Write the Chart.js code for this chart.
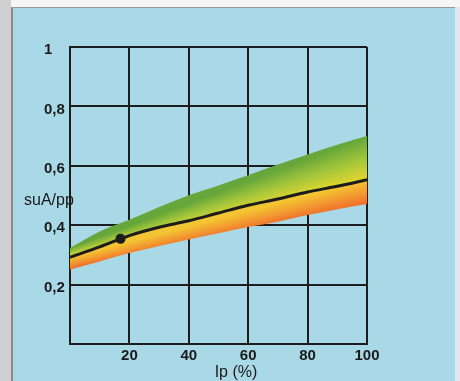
<!DOCTYPE html>
<html>
<head>
<meta charset="utf-8">
<script src="https://cdn.jsdelivr.net/npm/chart.js@4"></script>
<style>
  html, body { margin: 0; padding: 0; }
  body { width: 460px; height: 381px; overflow: hidden; background: #eeeeee; position: relative; }
  #leftStrip { position: absolute; left: 0; top: 0; width: 11px; height: 381px; background: #cfcfcf; }
  #topStrip { position: absolute; left: 11px; top: 0; width: 449px; height: 7px; background: #f6f6f6; }
  #panel { position: absolute; left: 11px; top: 7px; width: 444px; height: 374px; background: #a9d8e7;
           border-left: 2px solid #8a8a8a; border-top: 1px solid #9a9a9a; box-sizing: border-box; }
  #rightStrip { position: absolute; left: 455px; top: 7px; width: 5px; height: 374px; background: #dfe9ee; }
  canvas { position: absolute; left: 0; top: 0; }
</style>
</head>
<body>
<div id="leftStrip"></div>
<div id="topStrip"></div>
<div id="panel"></div>
<div id="rightStrip"></div>
<canvas id="c" width="460" height="381"></canvas>
<script>
// ---- data ----
const ipValues    = [0, 10, 20, 30, 40, 50, 60, 70, 80, 90, 100];
const upperBound  = [0.323, 0.379, 0.418, 0.461, 0.501, 0.534, 0.568, 0.604, 0.638, 0.671, 0.700];
const centralLine = [0.292, 0.327, 0.365, 0.393, 0.415, 0.441, 0.467, 0.488, 0.512, 0.531, 0.553];
const lowerBound  = [0.251, 0.278, 0.306, 0.330, 0.352, 0.373, 0.394, 0.412, 0.434, 0.454, 0.471];
const markerIp    = [17];
const markerSu    = [0.354];
const xTickLabels = ['', '20', '40', '60', '80', '100'];
const yTickLabels = ['', '0,2', '0,4', '0,6', '0,8', '1'];
const xTitle = 'Ip (%)';
const yTitle = 'suA/pp';

const upperColors = ['#66a63a', '#a4c63a', '#e6d72f'];
const lowerColors = ['#f3c532', '#f39a31', '#ef6c29'];

function pts(xs, ys) { return xs.map((x, i) => ({ x: x, y: ys[i] })); }

function bandGradient(chart, topArr, botArr, colors) {
  const { ctx, chartArea, scales } = chart;
  if (!chartArea || !scales.x || !scales.y) return colors[1];
  const sx = scales.x, sy = scales.y;
  const n = ipValues.length - 1;
  const x0 = sx.getPixelForValue(ipValues[0]), x1 = sx.getPixelForValue(ipValues[n]);
  const a0 = sy.getPixelForValue(topArr[0]), a1 = sy.getPixelForValue(topArr[n]);
  const b0 = sy.getPixelForValue(botArr[0]), b1 = sy.getPixelForValue(botArr[n]);
  const sa = (a1 - a0) / (x1 - x0), sb = (b1 - b0) / (x1 - x0);
  if (Math.abs(sa - sb) < 1e-6 || typeof ctx.createConicGradient !== 'function') {
    const g = ctx.createLinearGradient(0, Math.min(a0, a1), 0, Math.max(b0, b1));
    colors.forEach((c, i) => g.addColorStop(i / (colors.length - 1), c));
    return g;
  }
  const d = (b0 - a0) / (sa - sb);
  const cx = x0 + d, cy = a0 + sa * d;
  const angA = Math.atan2(a1 - cy, x1 - cx);
  const angB = Math.atan2(b1 - cy, x1 - cx);
  const frac = (angB - angA) / (2 * Math.PI);
  const g = ctx.createConicGradient(angA, cx, cy);
  colors.forEach((c, i) => g.addColorStop(frac * i / (colors.length - 1), c));
  g.addColorStop(Math.min(0.99, (frac + 1) / 2), colors[colors.length - 1]);
  g.addColorStop(1, colors[0]);
  return g;
}

const FONT_FAMILY = '"Liberation Sans", Arial, sans-serif';

const titlesPlugin = {
  id: 'titles',
  afterDraw(chart) {
    const { ctx, chartArea } = chart;
    ctx.save();
    ctx.fillStyle = '#1a1a1a';
    ctx.font = '16px ' + FONT_FAMILY;
    ctx.textBaseline = 'middle';
    ctx.textAlign = 'left';
    ctx.fillText(yTitle, chartArea.left - 46, chartArea.top + 154);
    ctx.textAlign = 'center';
    ctx.fillText(xTitle, chartArea.left + 166, chartArea.bottom + 29);
    ctx.restore();
  }
};

Chart.defaults.font.family = FONT_FAMILY;
Chart.defaults.font.size = 15;
Chart.defaults.font.weight = 'bold';
Chart.defaults.color = '#1a1a1a';

new Chart(document.getElementById('c'), {
  type: 'line',
  data: {
    datasets: [
      {
        label: 'upper',
        data: pts(ipValues, upperBound),
        borderWidth: 0,
        pointRadius: 0,
        cubicInterpolationMode: 'monotone',
        fill: '+1',
        backgroundColor: (c) => bandGradient(c.chart, upperBound, centralLine, upperColors)
      },
      {
        label: 'central',
        data: pts(ipValues, centralLine),
        borderColor: '#1c1c1c',
        borderWidth: 3,
        pointRadius: 0,
        cubicInterpolationMode: 'monotone',
        fill: '+1',
        backgroundColor: (c) => bandGradient(c.chart, centralLine, lowerBound, lowerColors)
      },
      {
        label: 'lower',
        data: pts(ipValues, lowerBound),
        borderWidth: 0,
        pointRadius: 0,
        cubicInterpolationMode: 'monotone',
        fill: false
      },
      {
        label: 'marker',
        data: pts(markerIp, markerSu),
        showLine: false,
        pointRadius: 5,
        pointBackgroundColor: '#1c1c1c',
        pointBorderColor: '#1c1c1c',
        pointBorderWidth: 0,
        order: -1
      }
    ]
  },
  options: {
    responsive: false,
    animation: false,
    events: [],
    layout: { padding: { left: 44, top: 47, right: 93, bottom: 0 } },
    plugins: {
      legend: { display: false },
      tooltip: { enabled: false },
      filler: { drawTime: 'beforeDatasetsDraw' }
    },
    scales: {
      x: {
        type: 'linear',
        min: 0, max: 100,
        z: 1,
        afterFit: (s) => { s.height = 37; },
        grid: { color: '#1c1c1c', lineWidth: 2, drawTicks: false },
        border: { color: '#1c1c1c', width: 2 },
        ticks: {
          stepSize: 20,
          padding: 3,
          maxRotation: 0,
          autoSkip: false,
          callback: (v, i) => xTickLabels[i]
        }
      },
      y: {
        type: 'linear',
        min: 0, max: 1,
        z: 1,
        afterFit: (s) => { s.width = 26; },
        grid: { color: '#1c1c1c', lineWidth: 2, drawTicks: false },
        border: { color: '#1c1c1c', width: 2 },
        ticks: {
          stepSize: 0.2,
          padding: 3,
          crossAlign: 'far',
          labelOffset: 3,
          autoSkip: false,
          callback: (v, i) => yTickLabels[i]
        }
      }
    }
  },
  plugins: [titlesPlugin]
});
</script>
</body>
</html>
